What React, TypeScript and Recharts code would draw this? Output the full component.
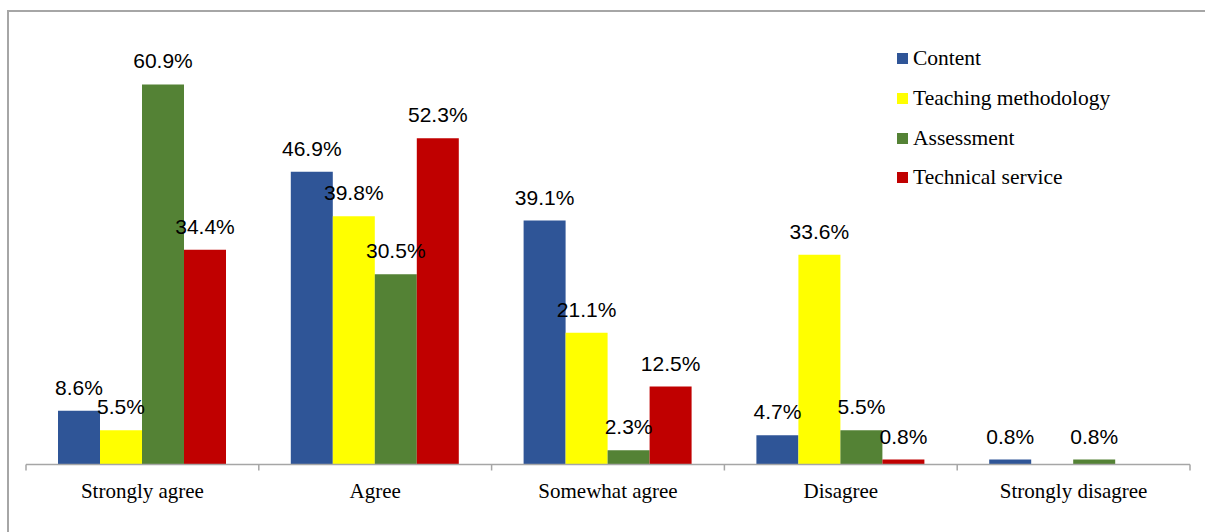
import React from "react";
import { BarChart, Bar, XAxis, YAxis, Legend, LabelList } from "recharts";

const categories = ["Strongly agree", "Agree", "Somewhat agree", "Disagree", "Strongly disagree"];
const content = [8.6, 46.9, 39.1, 4.7, 0.8];
const teaching = [5.5, 39.8, 21.1, 33.6, null];
const assessment = [60.9, 30.5, 2.3, 5.5, 0.8];
const technical = [34.4, 52.3, 12.5, 0.8, null];

const seriesNames = ["Content", "Teaching methodology", "Assessment", "Technical service"];
const seriesKeys = ["content", "teaching", "assessment", "technical"];
const seriesColors = ["#2F5597", "#FFFF00", "#548235", "#C00000"];

const data = categories.map((c, i) => ({
  name: c,
  content: content[i],
  teaching: teaching[i],
  assessment: assessment[i],
  technical: technical[i],
}));

const SERIF = "'Liberation Serif', 'Times New Roman', serif";
const SANS = "'Liberation Sans', Arial, sans-serif";

const renderLabel = (props: any) => {
  const { x, y, width, value } = props;
  if (value === null || value === undefined) return null;
  return (
    <text
      x={Number(x) + Number(width) / 2}
      y={Number(y) - 16}
      textAnchor="middle"
      fontFamily={SANS}
      fontSize={21}
      fill="#000"
    >
      {Number(value).toFixed(1)}%
    </text>
  );
};

const CategoryTick = (props: any) => {
  const { x, y, payload, index, visibleTicksCount } = props;
  const half = payload && payload.offset ? payload.offset : 1164 / 5 / 2;
  const axisY = Number(y) - 8;
  return (
    <g>
      <line x1={x - half} y1={axisY} x2={x - half} y2={axisY + 6} stroke="#A6A6A6" strokeWidth={1.5} />
      {index === (visibleTicksCount || 5) - 1 && (
        <line x1={x + half} y1={axisY} x2={x + half} y2={axisY + 6} stroke="#A6A6A6" strokeWidth={1.5} />
      )}
      <text x={x} y={axisY + 33} textAnchor="middle" fontFamily={SERIF} fontSize={21} fill="#000">
        {payload.value}
      </text>
    </g>
  );
};

const renderLegend = () => (
  <div style={{ fontFamily: SERIF, fontSize: 21.5, color: "#000" }}>
    {seriesNames.map((n, i) => (
      <div key={n} style={{ display: "flex", alignItems: "center", height: 39.7 }}>
        <span
          style={{
            display: "inline-block",
            width: 11,
            height: 11,
            background: seriesColors[i],
            marginRight: 5,
          }}
        />
        <span>{n}</span>
      </div>
    ))}
  </div>
);

export default function App() {
  return (
    <div style={{ position: "absolute", left: 0, top: 0, width: 1205, height: 532, overflow: "hidden", background: "#fff" }}>
      <div
        style={{
          position: "absolute",
          left: 7,
          top: 10,
          width: 1210,
          height: 540,
          borderTop: "2px solid #A6A6A6",
          borderLeft: "2px solid #A6A6A6",
          boxSizing: "border-box",
        }}
      />
      <div style={{ position: "absolute", left: 0, top: 0 }}>
        <BarChart
          width={1205}
          height={532}
          data={data}
          margin={{ top: 27.7, right: 15, bottom: 0, left: 26 }}
          barCategoryGap={32}
          barGap={0}
        >
          <XAxis
            dataKey="name"
            axisLine={{ stroke: "#A6A6A6", strokeWidth: 1.5 }}
            tickLine={false}
            tick={<CategoryTick />}
            interval={0}
            height={67.5}
          />
          <YAxis hide domain={[0, 70]} />
          <Legend
            layout="vertical"
            align="center"
            verticalAlign="middle"
            content={renderLegend}
            wrapperStyle={{ position: "absolute", left: 897, top: 39, width: 300 }}
          />
          {seriesKeys.map((k, i) => (
            <Bar key={k} dataKey={k} name={seriesNames[i]} fill={seriesColors[i]} isAnimationActive={false}>
              <LabelList dataKey={k} content={renderLabel} />
            </Bar>
          ))}
        </BarChart>
      </div>
    </div>
  );
}
